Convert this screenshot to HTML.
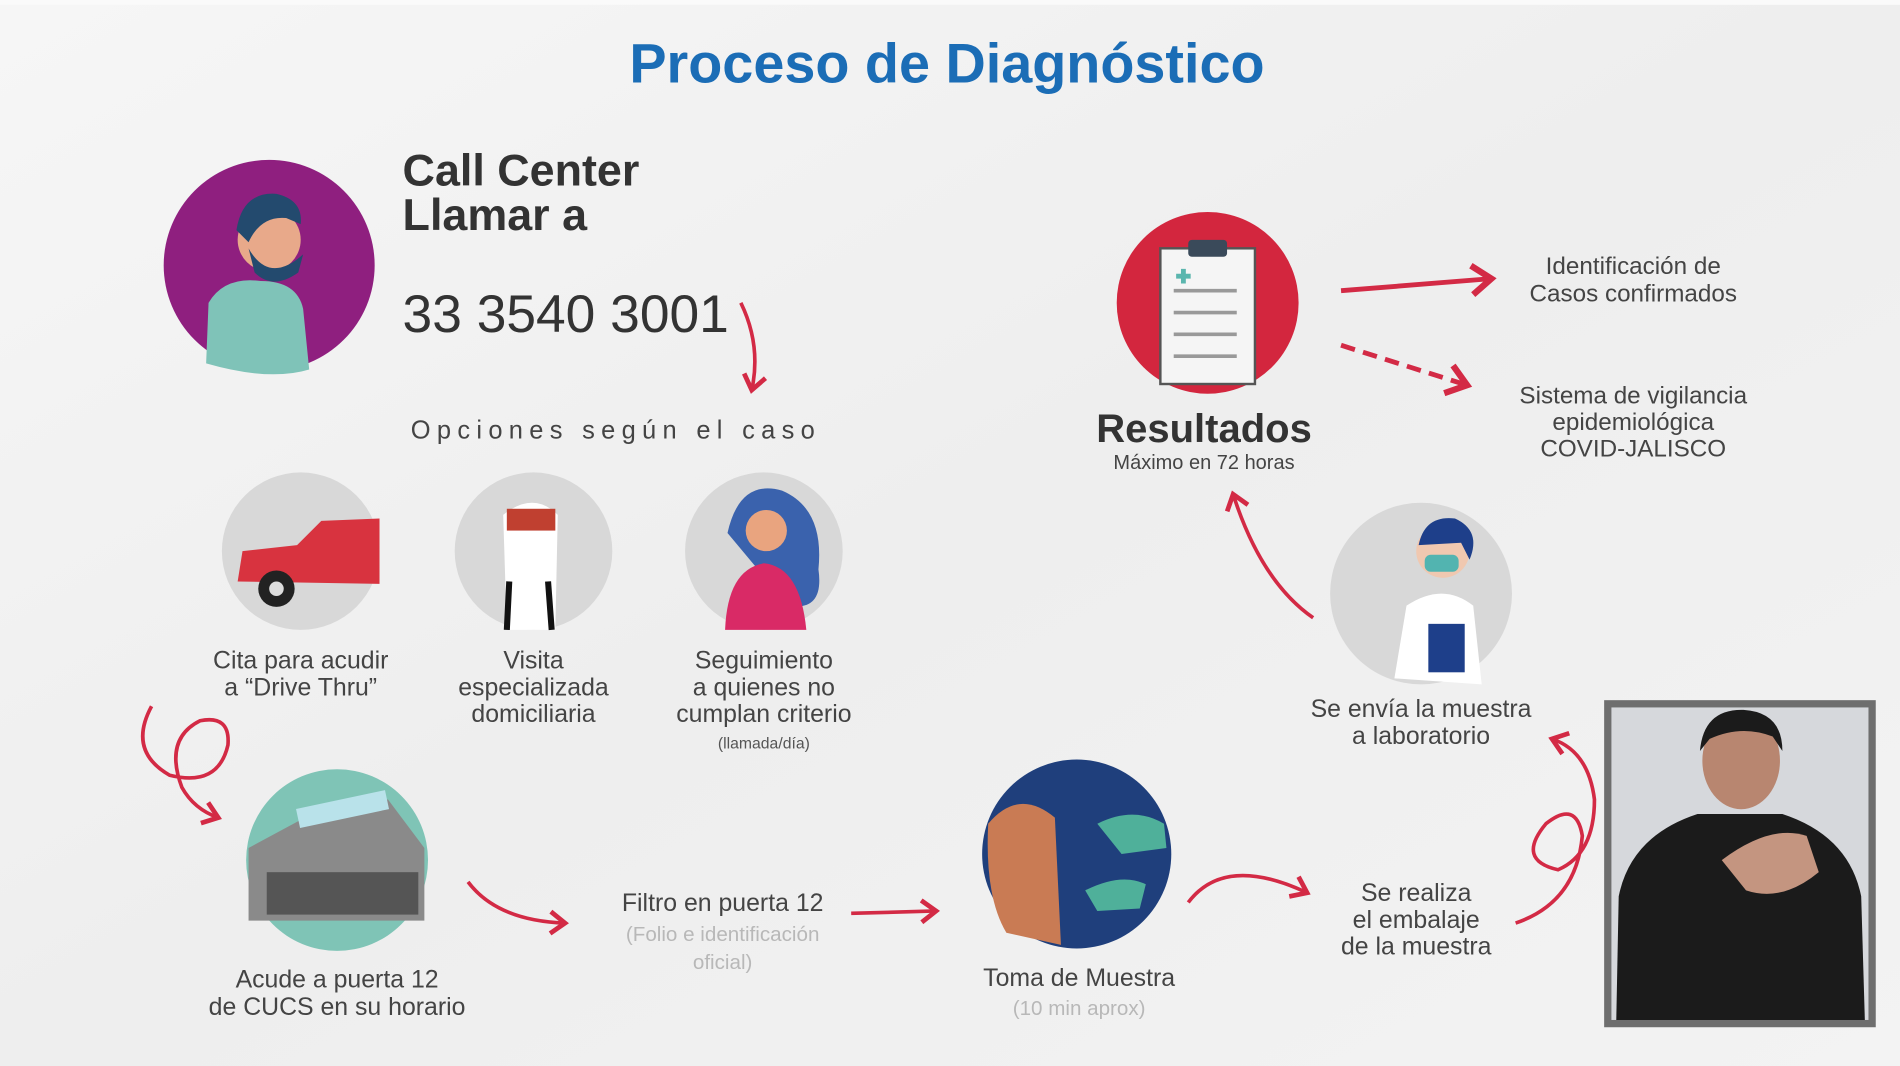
<!DOCTYPE html>
<html><head><meta charset="utf-8"><style>
html,body{margin:0;padding:0;background:#f1f1f1;overflow:hidden}
svg{display:block}
text{font-family:"Liberation Sans",sans-serif}
</style></head><body>
<svg width="1900" height="1066" viewBox="0 0 1567 880" preserveAspectRatio="none" xmlns="http://www.w3.org/2000/svg">
<defs>
<marker id="ah" markerWidth="8" markerHeight="8" refX="5" refY="4" orient="auto" markerUnits="strokeWidth">
<path d="M1,1 L5,4 L1,7" fill="none" stroke="#d32a45" stroke-width="1.3"/></marker>
<linearGradient id="bg" x1="0" y1="0" x2="1" y2="1"><stop offset="0" stop-color="#f6f6f6"/><stop offset="0.5" stop-color="#eeeeee"/><stop offset="1" stop-color="#f3f3f3"/></linearGradient>
</defs>
<rect width="1567" height="880" fill="url(#bg)"/>
<rect x="0" y="0" width="1567" height="4" fill="#fafafa"/>
<text x="781" y="68" text-anchor="middle" font-size="46" font-weight="bold" fill="#1b6db6">Proceso de Diagnóstico</text>

<circle cx="222" cy="219" r="87" fill="#8f1f7f"/>
<path d="M170,300 L172,250 Q185,228 215,232 Q245,232 250,255 L255,305 Q222,315 170,300Z" fill="#7fc3b8"/>
<circle cx="222" cy="198" r="26" fill="#e8a98a"/>
<path d="M195,190 Q200,158 228,160 Q250,165 248,185 L236,180 Q215,178 205,200Z" fill="#234a6e"/>
<path d="M205,205 Q222,235 250,210 L246,225 Q225,240 210,225Z" fill="#234a6e"/>
<text x="332" y="153" font-size="37" font-weight="bold" fill="#333">Call Center</text>
<text x="332" y="190" font-size="37" font-weight="bold" fill="#333">Llamar a</text>
<text x="332" y="274" font-size="44" fill="#333">33 3540 3001</text>
<path d="M611,250 Q628,285 620,322" fill="none" stroke="#d32a45" stroke-width="3" marker-end="url(#ah)"/>
<text x="508" y="362" text-anchor="middle" font-size="21" fill="#444" letter-spacing="5.2">Opciones según el caso</text>

<circle cx="248" cy="455" r="65" fill="#d8d8d8"/>
<path d="M196,480 L200,455 L245,450 L265,430 L313,428 L313,482Z" fill="#d8333f"/>
<circle cx="228" cy="486" r="15" fill="#222"/><circle cx="228" cy="486" r="6" fill="#ddd"/>
<circle cx="440" cy="455" r="65" fill="#d8d8d8"/>
<path d="M415,425 Q440,405 460,425 L458,520 L418,520Z" fill="#fff"/>
<rect x="418" y="420" width="40" height="18" fill="#c04030"/><path d="M420,480 L418,520 M452,480 L455,520" stroke="#111" stroke-width="5"/>
<circle cx="630" cy="455" r="65" fill="#d8d8d8"/>
<path d="M600,440 Q610,395 645,405 Q680,420 675,470 Q680,505 650,500Z" fill="#3a62ad"/>
<circle cx="632" cy="438" r="17" fill="#e9a47f"/>
<path d="M598,520 Q600,470 630,465 Q660,468 665,520Z" fill="#d92a66"/>
<g font-size="20.5" fill="#444" text-anchor="middle">
<text x="248" y="552">Cita para acudir</text><text x="248" y="574">a “Drive Thru”</text>
<text x="440" y="552">Visita</text><text x="440" y="574">especializada</text><text x="440" y="596">domiciliaria</text>
<text x="630" y="552">Seguimiento</text><text x="630" y="574">a quienes no</text><text x="630" y="596">cumplan criterio</text>
</g>
<text x="630" y="618" text-anchor="middle" font-size="13" fill="#555">(llamada/día)</text>

<path d="M125,583 Q105,620 140,640 Q180,650 188,615 Q190,590 165,595 Q135,610 150,650 Q160,668 180,675" fill="none" stroke="#d32a45" stroke-width="3" marker-end="url(#ah)"/>

<circle cx="278" cy="710" r="75" fill="#7fc4b6"/>
<path d="M205,700 L270,665 L320,660 L350,700 L350,760 L205,760Z" fill="#8a8a8a"/>
<rect x="245" y="660" width="75" height="16" fill="#b9e2ea" transform="rotate(-12 282 668)"/>
<rect x="220" y="720" width="125" height="35" fill="#555"/>
<g font-size="20.5" fill="#444" text-anchor="middle">
<text x="278" y="815">Acude a puerta 12</text><text x="278" y="838">de CUCS en su horario</text>
<text x="596" y="752">Filtro en puerta 12</text>
<text x="890" y="814">Toma de Muestra</text>
<text x="1168" y="744">Se realiza</text><text x="1168" y="766">el embalaje</text><text x="1168" y="788">de la muestra</text>
<text x="1172" y="592">Se envía la muestra</text><text x="1172" y="614">a laboratorio</text>
</g>
<g font-size="17" fill="#b8b8b8" text-anchor="middle">
<text x="596" y="777">(Folio e identificación</text><text x="596" y="800">oficial)</text>
<text x="890" y="838">(10 min aprox)</text>
</g>
<path d="M386,728 Q410,760 466,762" fill="none" stroke="#d32a45" stroke-width="3" marker-end="url(#ah)"/>
<path d="M702,754 L772,752" fill="none" stroke="#d32a45" stroke-width="3" marker-end="url(#ah)"/>
<circle cx="888" cy="705" r="78" fill="#1f3f7c"/>
<path d="M815,680 Q840,650 870,675 L875,780 L830,770 Q812,740 815,680Z" fill="#c97b54"/>
<path d="M905,680 Q935,665 960,680 L962,700 L925,705Z" fill="#4fb09a"/>
<path d="M895,735 Q925,720 945,730 L940,750 L905,752Z" fill="#4fb09a"/>
<path d="M980,745 Q1010,705 1078,737" fill="none" stroke="#d32a45" stroke-width="3" marker-end="url(#ah)"/>

<path d="M1250,762 Q1300,745 1305,690 Q1300,660 1275,680 Q1250,710 1285,718 Q1315,705 1315,660 Q1310,620 1280,610" fill="none" stroke="#d32a45" stroke-width="3" marker-end="url(#ah)"/>

<circle cx="1172" cy="490" r="75" fill="#d8d8d8"/>
<path d="M1150,560 L1160,500 Q1190,480 1215,500 L1222,565Z" fill="#fff"/>
<circle cx="1190" cy="455" r="22" fill="#f0c8b0"/><path d="M1170,450 Q1175,425 1200,428 Q1222,438 1212,462 L1205,448Z" fill="#1e3f8a"/>
<rect x="1175" y="458" width="28" height="14" rx="5" fill="#52b4b0"/>
<rect x="1178" y="515" width="30" height="40" fill="#1e3f8a"/>
<path d="M1083,510 Q1040,480 1017,408" fill="none" stroke="#d32a45" stroke-width="3" marker-end="url(#ah)"/>

<circle cx="996" cy="250" r="75" fill="#d3263e"/>
<rect x="957" y="205" width="78" height="112" fill="#f5f5f5" stroke="#555" stroke-width="2"/>
<rect x="980" y="198" width="32" height="14" rx="3" fill="#3a4a5a"/>
<g stroke="#999" stroke-width="3"><line x1="968" y1="240" x2="1020" y2="240"/><line x1="968" y1="258" x2="1020" y2="258"/><line x1="968" y1="276" x2="1020" y2="276"/><line x1="968" y1="294" x2="1020" y2="294"/></g>
<path d="M970,228 h12 M976,222 v12" stroke="#5bb6ae" stroke-width="4"/>
<text x="993" y="365" text-anchor="middle" font-size="33" font-weight="bold" fill="#333">Resultados</text>
<text x="993" y="387" text-anchor="middle" font-size="16.5" fill="#444">Máximo en 72 horas</text>
<path d="M1106,240 L1230,230" fill="none" stroke="#d32a45" stroke-width="4" marker-end="url(#ah)"/>
<path d="M1106,285 L1210,318" fill="none" stroke="#d32a45" stroke-width="4" stroke-dasharray="12,7" marker-end="url(#ah)"/>
<g font-size="20" fill="#444" text-anchor="middle">
<text x="1347" y="226">Identificación de</text><text x="1347" y="249">Casos confirmados</text>
<text x="1347" y="333">Sistema de vigilancia</text><text x="1347" y="355">epidemiológica</text><text x="1347" y="377">COVID-JALISCO</text>
</g>

<rect x="1323" y="578" width="224" height="270" fill="#6e6e6e"/>
<rect x="1329" y="584" width="212" height="258" fill="#d6d8dc"/>
<path d="M1333,842 L1335,740 Q1345,690 1400,672 L1470,672 Q1525,690 1535,740 L1538,842Z" fill="#1b1b1b"/>
<ellipse cx="1436" cy="628" rx="32" ry="40" fill="#b88670"/>
<path d="M1402,620 Q1405,585 1438,586 Q1470,588 1470,620 L1462,608 Q1436,598 1410,610Z" fill="#1b1b1b"/>
<path d="M1420,710 Q1460,680 1490,690 L1500,720 Q1470,745 1440,735Z" fill="#c49580"/>
</svg>
</body></html>
